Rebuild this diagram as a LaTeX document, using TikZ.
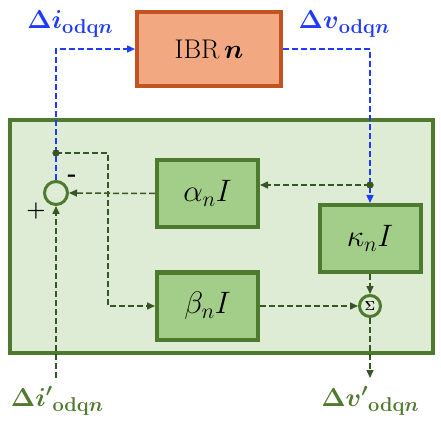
\RequirePackage{fix-cm}
\documentclass[tikz,border=0pt]{standalone}
\usepackage{amsmath,bm}
\usetikzlibrary{arrows.meta}
\definecolor{sigblue}{HTML}{1F3BFF}
\definecolor{lblgreen}{HTML}{4F7A30}
\definecolor{linegreen}{HTML}{375623}
\definecolor{boxfill}{HTML}{A3CE89}
\definecolor{boxdraw}{HTML}{4E7A30}
\definecolor{bigfill}{HTML}{DEECD5}
\definecolor{ibrfill}{HTML}{F2A981}
\definecolor{ibrdraw}{HTML}{C25424}
\newcommand{\sigsub}[1]{\raisebox{-5pt}{\fontsize{20}{20}\selectfont$#1$}}
\tikzset{
  blk/.style={draw=boxdraw, fill=boxfill, line width=4pt, minimum width=101pt, minimum height=67pt, inner sep=0pt, font=\fontsize{31}{34}\selectfont},
  sumc/.style={circle, draw=boxdraw, fill=bigfill, line width=3pt, inner sep=0pt},
  bsig/.style={draw=sigblue, line width=1.5pt, dash pattern=on 6pt off 3pt, -{Triangle[length=8pt,width=7pt]}},
  gsig/.style={draw=linegreen, line width=1.5pt, dash pattern=on 6pt off 3pt, -{Triangle[length=8pt,width=7pt]}},
  dotn/.style={circle, fill=linegreen, inner sep=0pt, minimum size=7pt},
  lbl/.style={font=\fontsize{26}{28}\selectfont, inner sep=0pt}
}
\begin{document}
\begin{tikzpicture}[x=1pt,y=-1pt]
\useasboundingbox (0,0) rectangle (441,427);
% big box
\node[draw=boxdraw, fill=bigfill, line width=4pt, minimum width=423pt, minimum height=233pt, inner sep=0pt] (big) at (221.5,236.5) {};
% IBR
\node[draw=ibrdraw, fill=ibrfill, line width=4pt, minimum width=144pt, minimum height=74pt, inner sep=0pt, font=\fontsize{27}{30}\selectfont] (ibr) at (209,49) {$\mathrm{IBR}\,\bm{n}$};
% blocks
\node[blk] (alpha) at (207.5,193.5) {$\alpha_n I$};
\node[blk] (kappa) at (370,238.5) {$\kappa_n I$};
\node[blk] (beta) at (207.5,306) {$\beta_n I$};
% summing junctions
\node[sumc, minimum size=23pt] (sum1) at (56,193) {};
\node[sumc, minimum size=21pt, font=\fontsize{13}{13}\selectfont] (sigma) at (370,306) {$\bm{\Sigma}$};
% dots and coordinates
\node[dotn] (dot1) at (56,153) {};
\node[dotn] (dot2) at (370,185) {};
\coordinate (turn1) at (108,153);
\coordinate (iin) at (56,378);
\coordinate (vout) at (370,378);
% blue signals
\draw[bsig] (sum1.north) |- (ibr.west);
\draw[bsig] (ibr.east) -| (kappa.north);
% green signals
\draw[gsig] (dot2.center) -- (dot2 -| alpha.east);
\draw[gsig] (alpha.west) -- (sum1.east);
\draw[gsig] (dot1.center) -- (turn1) |- (beta.west);
\draw[gsig] (kappa.south) -- (sigma.north);
\draw[gsig] (beta.east) -- (sigma.west);
\draw[gsig] (sigma.south) -- (vout);
\draw[gsig] (iin) -- (sum1.south);
\node[dotn] at (dot1) {};
\node[dotn] at (dot2) {};
% signs
\node[font=\fontsize{24}{24}\selectfont\bfseries, inner sep=0pt] (minus) at (72,178) {-};
\node[font=\fontsize{22}{22}\selectfont\bfseries, inner sep=0pt] (plus) at (36,211) {+};
% labels
\node[lbl, text=sigblue] (li) at (70,24) {$\bm{\Delta i}$\sigsub{\mathbf{odq}\bm{n}}};
\node[lbl, text=sigblue] (lv) at (344,24) {$\bm{\Delta v}$\sigsub{\mathbf{odq}\bm{n}}};
\node[lbl, text=lblgreen] (lip) at (57,401) {$\bm{\Delta i'}$\sigsub{\mathbf{odq}\bm{n}}};
\node[lbl, text=lblgreen] (lvp) at (370,401) {$\bm{\Delta v'}$\sigsub{\mathbf{odq}\bm{n}}};
\end{tikzpicture}
\end{document}
